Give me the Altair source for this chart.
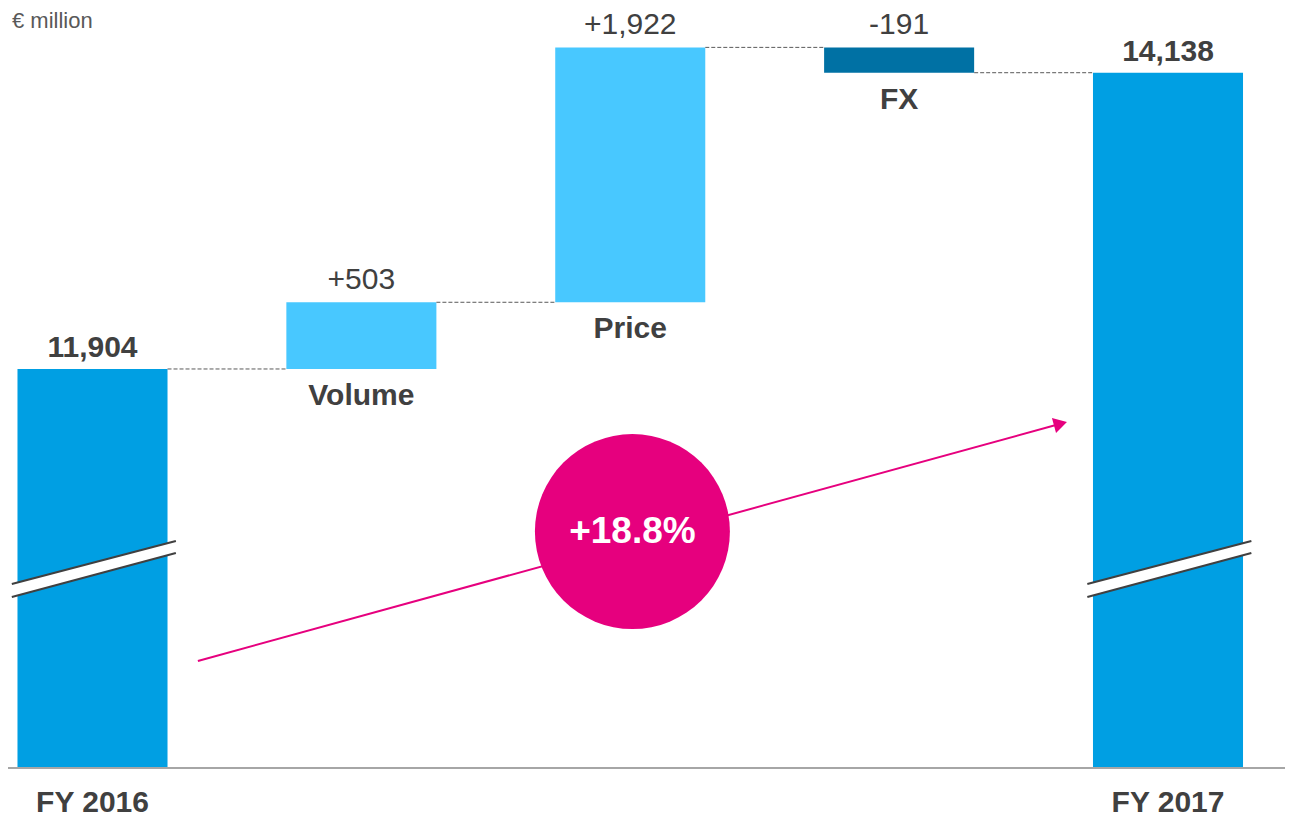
import altair as alt
import pandas as pd

# ---------------- data ----------------
categories = ["FY 2016", "Volume", "Price", "FX", "FY 2017"]
amounts = [11904, 503, 1922, -191, 14138]
kinds = ["total", "delta", "delta", "delta", "total"]
value_labels = ["11,904", "+503", "+1,922", "-191", "14,138"]
growth_label = "+18.8%"
unit_label = "€ million"

# broken value axis (value at the baseline, value at the top edge)
AXIS_FLOOR = 8895
AXIS_TOP = 14626

# ---------------- styles ----------------
W, H = 1277, 809
FONT = "Liberation Sans"
TXT = "#404040"
PINK = "#E6007E"
HALF = 0.279  # half bar width, in category slots
COLORS = {"total": "#009FE3", "up": "#48C8FF", "down": "#0071A4"}

# ---------------- derived table ----------------
rows = []
running = 0
for i, (c, a, k, lab) in enumerate(zip(categories, amounts, kinds, value_labels)):
    if k == "total":
        lo, hi, end = AXIS_FLOOR, a, a
        col = "total"
    else:
        start, end = running, running + a
        lo, hi = min(start, end), max(start, end)
        col = "up" if a >= 0 else "down"
    running = end
    rows.append(dict(idx=i, cat=c, kind=k, col=col, lo=lo, hi=hi, end=end,
                     xl=i - HALF, xr=i + HALF, label=lab))
df = pd.DataFrame(rows)

conn = pd.DataFrame([
    dict(x=rows[i]["idx"] + HALF, x2=rows[i + 1]["idx"] - HALF, y=rows[i]["end"])
    for i in range(len(rows) - 1)
])

# axis-break marks on the two total bars
brk_rows = []
for r in rows:
    if r["kind"] == "total":
        i = r["idx"]
        brk_rows.append(dict(bar=i, x=i - 0.30, top=10283, bot=10184))
        brk_rows.append(dict(bar=i, x=i + 0.31, top=10607, bot=10516))
brk = pd.DataFrame(brk_rows)
brk_long = pd.concat([
    brk.assign(edge="top", y=brk["top"]),
    brk.assign(edge="bot", y=brk["bot"]),
])

arrow = pd.DataFrame([dict(x=0.392, y=9702, x2=3.600, y2=11491)])
bubble = pd.DataFrame([dict(x=2.008, y=10678, label=growth_label)])
floor_df = pd.DataFrame([dict(y=AXIS_FLOOR)])

xs = alt.Scale(domain=[0, 4], range=[84.5, 1160], zero=False, nice=False)
ys = alt.Scale(domain=[AXIS_FLOOR, AXIS_TOP], range=[760, 0], zero=False, nice=False)


def X(f):
    return alt.X(f, type="quantitative", scale=xs, axis=None)


def Y(f):
    return alt.Y(f, type="quantitative", scale=ys, axis=None)


base = alt.Chart(df)

bars = base.mark_bar().encode(
    x=X("xl"), x2="xr", y=Y("hi"), y2="lo",
    color=alt.Color("col:N", scale=alt.Scale(domain=list(COLORS), range=list(COLORS.values())), legend=None),
)

connectors = alt.Chart(conn).mark_rule(color="#595959", strokeWidth=1, strokeDash=[4, 2]).encode(
    x=X("x"), x2="x2", y=Y("y")
)

baseline = alt.Chart(floor_df).mark_rule(color="#A6A6A6", strokeWidth=2).encode(
    x=alt.value(0), x2=alt.value(W), y=Y("y")
)

brk_fill = alt.Chart(brk).mark_area(color="white", opacity=1).encode(
    x=X("x"), y=Y("top"), y2="bot", detail="bar:N"
)
brk_lines = alt.Chart(brk_long).mark_line(color="#404040", strokeWidth=2).encode(
    x=X("x"), y=Y("y"), detail=["bar:N", "edge:N"]
)

arrow_line = alt.Chart(arrow).mark_rule(color=PINK, strokeWidth=2).encode(
    x=X("x"), y=Y("y"), x2="x2", y2="y2"
)
arrow_head = alt.Chart(arrow).mark_point(
    shape="triangle-up", filled=True, size=240, angle=74.6, color=PINK, opacity=1
).encode(x=X("x2"), y=Y("y2"))

circle = alt.Chart(bubble).mark_point(
    shape="circle", filled=True, size=38025, color=PINK, opacity=1
).encode(x=X("x"), y=Y("y"))
circle_text = alt.Chart(bubble).mark_text(
    font=FONT, fontSize=37, fontWeight="bold", color="white", baseline="middle", align="center"
).encode(x=X("x"), y=Y("y"), text="label:N")

val_total = base.transform_filter(alt.datum.kind == "total").mark_text(
    font=FONT, fontSize=30, fontWeight="bold", color=TXT, baseline="alphabetic", dy=-12
).encode(x=X("idx"), y=Y("hi"), text="label:N")
val_delta = base.transform_filter(alt.datum.kind == "delta").mark_text(
    font=FONT, fontSize=30, color=TXT, baseline="alphabetic", dy=-13
).encode(x=X("idx"), y=Y("hi"), text="label:N")

cat_delta = base.transform_filter(alt.datum.kind == "delta").mark_text(
    font=FONT, fontSize=30, fontWeight="bold", color=TXT, baseline="alphabetic", dy=36
).encode(x=X("idx"), y=Y("lo"), text="cat:N")
cat_total = base.transform_filter(alt.datum.kind == "total").mark_text(
    font=FONT, fontSize=30, fontWeight="bold", color=TXT, baseline="alphabetic"
).encode(x=X("idx"), y=alt.value(804), text="cat:N")

unit = alt.Chart(pd.DataFrame([dict(t=unit_label)])).mark_text(
    font=FONT, fontSize=22, color="#595959", align="left", baseline="alphabetic"
).encode(x=alt.value(4), y=alt.value(20), text="t:N")

chart = alt.layer(
    bars, connectors, baseline, brk_fill, brk_lines, arrow_line, arrow_head,
    circle, circle_text, val_total, val_delta, cat_delta, cat_total, unit
).properties(
    width=W, height=H, padding=0,
    autosize=alt.AutoSizeParams(type="none"),
    background="white",
).configure_view(stroke=None)

chart.save("out.html", embed_options={"renderer": "svg", "actions": False})
